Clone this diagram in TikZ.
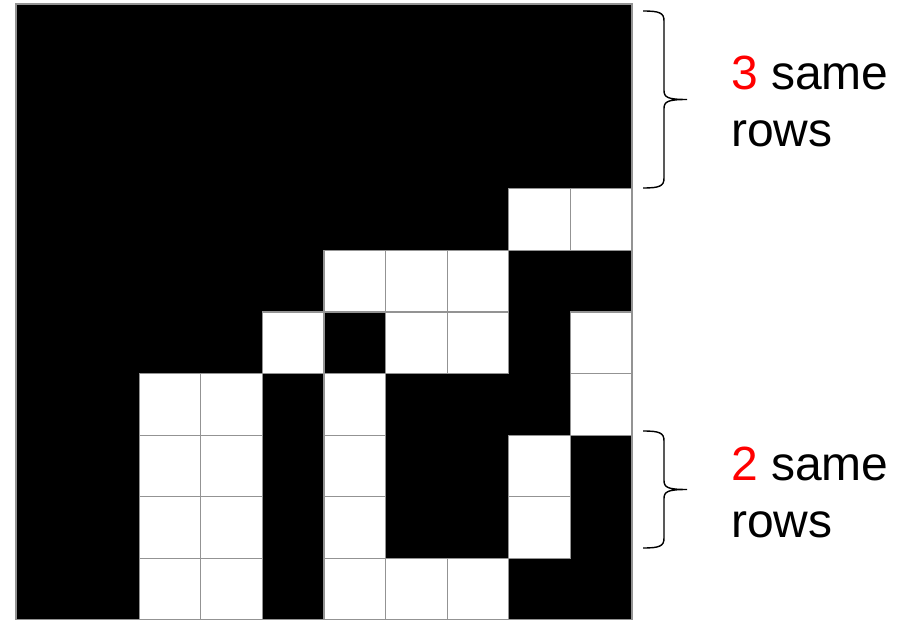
\documentclass[tikz,border=0pt]{standalone}
\usepackage{fontspec}
\setmainfont{Liberation Sans}
\usepackage{xcolor}
\tikzset{
  cellw/.style={fill=white, draw=gray!85, line width=1.3pt},
  lbl/.style={anchor=base west, inner sep=0pt, font=\fontsize{48}{52}\selectfont},
  brc/.style={line width=1.4pt},
}
% square-ish curly brace from y=#1 to y=#2 (x fixed)
\newcommand\rowbrace[2]{%
  \pgfmathsetmacro\bm{(#1+#2)/2}%
  \draw[brc] (643,#1) .. controls (660,#1) and (664,#1+2) .. (664,#1+10)
    -- (664,\bm-9) .. controls (664,\bm-2) and (668,\bm) .. (687,\bm)
    .. controls (668,\bm) and (664,\bm+2) .. (664,\bm+9)
    -- (664,#2-10) .. controls (664,#2-2) and (660,#2) .. (643,#2);}

\begin{document}
\begin{tikzpicture}[x=1pt, y=-1pt]
\useasboundingbox (0,0) rectangle (900,620);
\def\cs{61.6}
% black background of the 10x10 image
\fill[black] (16,4) rectangle ++(10*\cs,10*\cs);
% white pixels (column/row)
\foreach \c/\r in {8/3,9/3, 5/4,6/4,7/4, 4/5,6/5,7/5,9/5,
                   2/6,3/6,5/6,9/6, 2/7,3/7,5/7,8/7, 2/8,3/8,5/8,8/8,
                   2/9,3/9,5/9,6/9,7/9}
  \draw[cellw] ({16+\c*\cs},{4+\r*\cs}) rectangle ++(\cs,\cs);
\draw[gray!85, line width=1.3pt] (16,4) rectangle ++(10*\cs,10*\cs);
% braces and labels
\rowbrace{11}{188}
\rowbrace{431}{548}
\node[lbl] (top1) at (731,90) {{\color{red}3} same};
\node[lbl] (top2) at (731,147) {rows};
\node[lbl] (bot1) at (731,480) {{\color{red}2} same};
\node[lbl] (bot2) at (731,537) {rows};
\end{tikzpicture}
\end{document}
